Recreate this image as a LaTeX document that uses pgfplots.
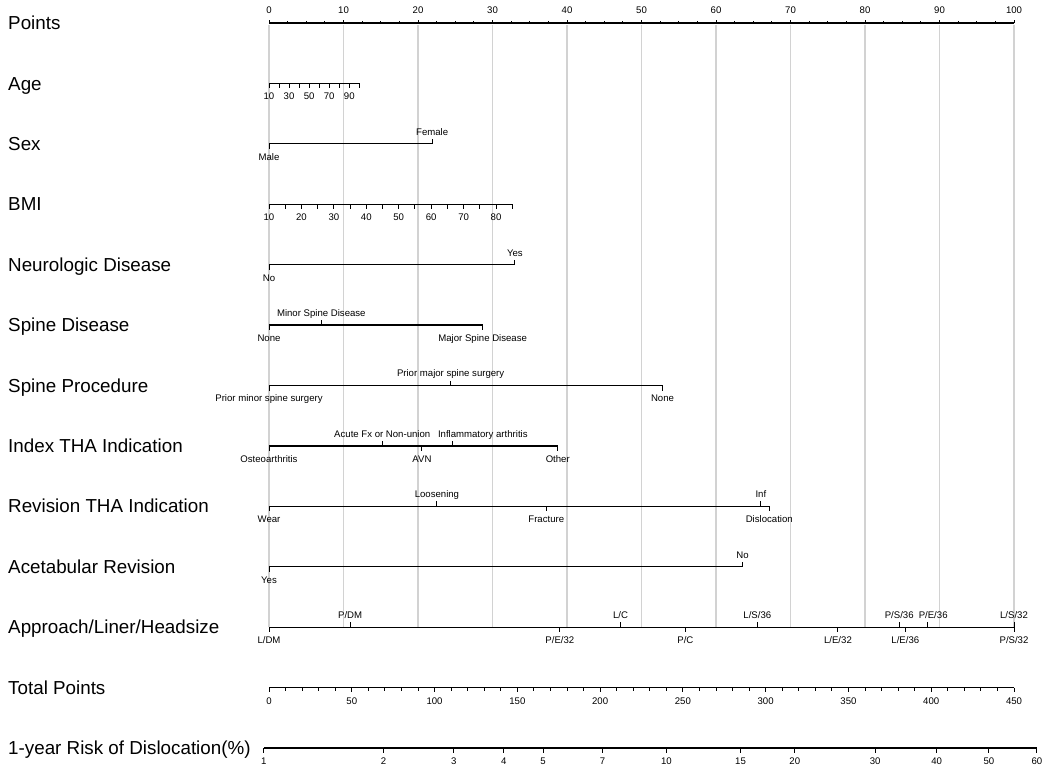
\documentclass[border=0pt]{standalone}
\usepackage{pgfplots}
\pgfplotsset{compat=1.18}
\usepackage{fontspec}
\setmainfont{Liberation Sans}
\newcommand\tk{\fontsize{9.6}{11}\selectfont}
\newcommand\rl{\fontsize{18.8}{21}\selectfont}
\definecolor{gridgray}{RGB}{210,210,210}
\pgfdeclareplotmark{tup}{\pgfpathmoveto{\pgfpointorigin}\pgfpathlineto{\pgfpoint{0pt}{5pt}}\pgfusepathqstroke}
\pgfdeclareplotmark{tdn}{\pgfpathmoveto{\pgfpointorigin}\pgfpathlineto{\pgfpoint{0pt}{-5pt}}\pgfusepathqstroke}
\pgfdeclareplotmark{tupM}{\pgfpathmoveto{\pgfpointorigin}\pgfpathlineto{\pgfpoint{0pt}{3.5pt}}\pgfusepathqstroke}
\pgfdeclareplotmark{tupm}{\pgfpathmoveto{\pgfpointorigin}\pgfpathlineto{\pgfpoint{0pt}{2.3pt}}\pgfusepathqstroke}
\pgfdeclareplotmark{tdnM}{\pgfpathmoveto{\pgfpointorigin}\pgfpathlineto{\pgfpoint{0pt}{-4.5pt}}\pgfusepathqstroke}
\pgfdeclareplotmark{tdnm}{\pgfpathmoveto{\pgfpointorigin}\pgfpathlineto{\pgfpoint{0pt}{-3.2pt}}\pgfusepathqstroke}
\pgfplotsset{
  axl/.style={black, line width=1.3pt, mark=none, forget plot},
  grd/.style={gridgray, line width=1.3pt, mark=none, forget plot},
  tks/.style={black, only marks, mark=#1, mark options={line width=1pt}, forget plot},
  lab/.style={nodes near coords, point meta=explicit symbolic,
    every node near coord/.append style={font=\tk, text=black, anchor=base, yshift=#1, inner sep=0pt}},
  labA/.style={lab=8.6pt},
  labB/.style={lab=-16.4pt},
  txt/.style={draw=none, mark=none, forget plot},
}
\begin{document}
\begin{tikzpicture}
\begin{axis}[scale only axis, width=1050pt, height=773pt,
  xmin=-36.107, xmax=104.832, ymin=-0.3807, ymax=12.413, y dir=reverse,
  hide axis, clip=false]
\path (rel axis cs:0,0) rectangle (rel axis cs:1,1);
% grid lines
\pgfplotsinvokeforeach{0,10,...,100}{\addplot[grd] coordinates {(#1,0.03) (#1,10)};}

% row labels
\addplot[txt, nodes near coords, point meta=explicit symbolic,
  every node near coord/.append style={font=\rl, text=black, anchor=base west, yshift=-6.6pt, inner sep=0pt}]
  coordinates {(-35.03,0) [Points] (-35.03,1) [Age] (-35.03,2) [Sex] (-35.03,3) [BMI]
  (-35.03,4) [Neurologic Disease] (-35.03,5) [Spine Disease] (-35.03,6) [Spine Procedure]
  (-35.03,7) [Index THA Indication] (-35.03,8) [Revision THA Indication]
  (-35.03,9) [Acetabular Revision] (-35.03,10) [Approach/Liner/Headsize]
  (-35.03,11) [Total Points] (-35.03,12) [1-year Risk of Dislocation(\%)]};

% Points (row 0)
\addplot[axl] coordinates {(0,0) (100,0)};
\addplot[tks=tupm] table[row sep=\\, y expr=0] {x\\0\\2.5\\5\\7.5\\10\\12.5\\15\\17.5\\20\\22.5\\25\\27.5\\30\\32.5\\35\\37.5\\40\\42.5\\45\\47.5\\50\\52.5\\55\\57.5\\60\\62.5\\65\\67.5\\70\\72.5\\75\\77.5\\80\\82.5\\85\\87.5\\90\\92.5\\95\\97.5\\100\\};
\addplot[tks=tupM, lab=9.6pt] coordinates {(0,0) [0] (10,0) [10] (20,0) [20] (30,0) [30] (40,0) [40] (50,0) [50] (60,0) [60] (70,0) [70] (80,0) [80] (90,0) [90] (100,0) [100]};

% Age (row 1)
\addplot[axl] coordinates {(0,1) (12.12,1)};
\addplot[tks=tdnM] table[row sep=\\, x expr={(\thisrow{a}-10)*0.13467}, y expr=1] {a\\10\\20\\30\\40\\50\\60\\70\\80\\90\\100\\};
\addplot[txt, labB] table[row sep=\\, x expr={(\thisrow{a}-10)*0.13467}, y expr=1, meta=a] {a\\10\\30\\50\\70\\90\\};

% Sex (row 2)
\addplot[axl] coordinates {(0,2) (21.9,2)};
\addplot[tks=tup, labA] coordinates {(21.9,2) [Female]};
\addplot[tks=tdn, labB] coordinates {(0,2) [Male]};

% BMI (row 3)
\addplot[axl] coordinates {(0,3) (32.65,3)};
\addplot[tks=tdnM] table[row sep=\\, x expr={(\thisrow{b}-10)*0.43533}, y expr=3] {b\\10\\15\\20\\25\\30\\35\\40\\45\\50\\55\\60\\65\\70\\75\\80\\85\\};
\addplot[txt, labB] table[row sep=\\, x expr={(\thisrow{b}-10)*0.43533}, y expr=3, meta=b] {b\\10\\20\\30\\40\\50\\60\\70\\80\\};

% Neurologic Disease (row 4)
\addplot[axl] coordinates {(0,4) (33.0,4)};
\addplot[tks=tup, labA] coordinates {(33.0,4) [Yes]};
\addplot[tks=tdn, labB] coordinates {(0,4) [No]};

% Spine Disease (row 5)
\addplot[axl] coordinates {(0,5) (28.68,5)};
\addplot[tks=tup, labA] coordinates {(7.02,5) [Minor Spine Disease]};
\addplot[tks=tdn, labB] coordinates {(0,5) [None] (28.68,5) [Major Spine Disease]};

% Spine Procedure (row 6)
\addplot[axl] coordinates {(0,6) (52.82,6)};
\addplot[tks=tup, labA] coordinates {(24.38,6) [Prior major spine surgery]};
\addplot[tks=tdn, labB] coordinates {(0,6) [Prior minor spine surgery] (52.82,6) [None]};

% Index THA Indication (row 7)
\addplot[axl] coordinates {(0,7) (38.76,7)};
\addplot[tks=tup, labA] coordinates {(15.20,7) [Acute Fx or Non-union]};
\addplot[tks=tup] coordinates {(24.64,7)};
\addplot[txt, labA] coordinates {(28.7,7) [Inflammatory arthritis]};
\addplot[tks=tdn, labB] coordinates {(0,7) [Osteoarthritis] (20.53,7) [AVN] (38.76,7) [Other]};

% Revision THA Indication (row 8)
\addplot[axl] coordinates {(0,8) (67.15,8)};
\addplot[tks=tup, labA] coordinates {(22.54,8) [Loosening] (66.02,8) [Inf]};
\addplot[tks=tdn, labB] coordinates {(0,8) [Wear] (37.22,8) [Fracture] (67.15,8) [Dislocation]};

% Acetabular Revision (row 9)
\addplot[axl] coordinates {(0,9) (63.55,9)};
\addplot[tks=tup, labA] coordinates {(63.55,9) [No]};
\addplot[tks=tdn, labB] coordinates {(0,9) [Yes]};

% Approach/Liner/Headsize (row 10)
\addplot[axl] coordinates {(0,10) (100,10)};
\addplot[tks=tup, labA] coordinates {(10.89,10) [P/DM] (47.19,10) [L/C] (65.55,10) [L/S/36] (84.59,10) [P/S/36] (100,10) [L/S/32]};
\addplot[tks=tup] coordinates {(88.36,10)};
\addplot[txt, labA] coordinates {(89.15,10) [P/E/36]};
\addplot[tks=tdn, labB] coordinates {(0,10) [L/DM] (39.04,10) [P/E/32] (55.89,10) [P/C] (76.37,10) [L/E/32] (85.41,10) [L/E/36] (100,10) [P/S/32]};

% Total Points (row 11)
\addplot[axl] coordinates {(0,11) (100,11)};
\addplot[tks=tdnm] table[row sep=\\, x expr=\thisrow{t}/4.5, y expr=11] {t\\0\\10\\20\\30\\40\\60\\70\\80\\90\\110\\120\\130\\140\\160\\170\\180\\190\\210\\220\\230\\240\\260\\270\\280\\290\\310\\320\\330\\340\\360\\370\\380\\390\\410\\420\\430\\440\\};
\addplot[tks=tdnM, labB] table[row sep=\\, x expr=\thisrow{t}/4.5, y expr=11, meta=t] {t\\0\\50\\100\\150\\200\\250\\300\\350\\400\\450\\};

% 1-year Risk of Dislocation (row 12)
\addplot[axl] coordinates {(-0.70,12) (103.07,12)};
\addplot[tks=tdnM, labB] coordinates {(-0.70,12) [1] (15.36,12) [2] (24.80,12) [3] (31.52,12) [4] (36.78,12) [5] (44.77,12) [7] (53.34,12) [10] (63.29,12) [15] (70.58,12) [20] (81.37,12) [30] (89.62,12) [40] (96.63,12) [50] (103.07,12) [60]};
\end{axis}
\end{tikzpicture}
\end{document}
